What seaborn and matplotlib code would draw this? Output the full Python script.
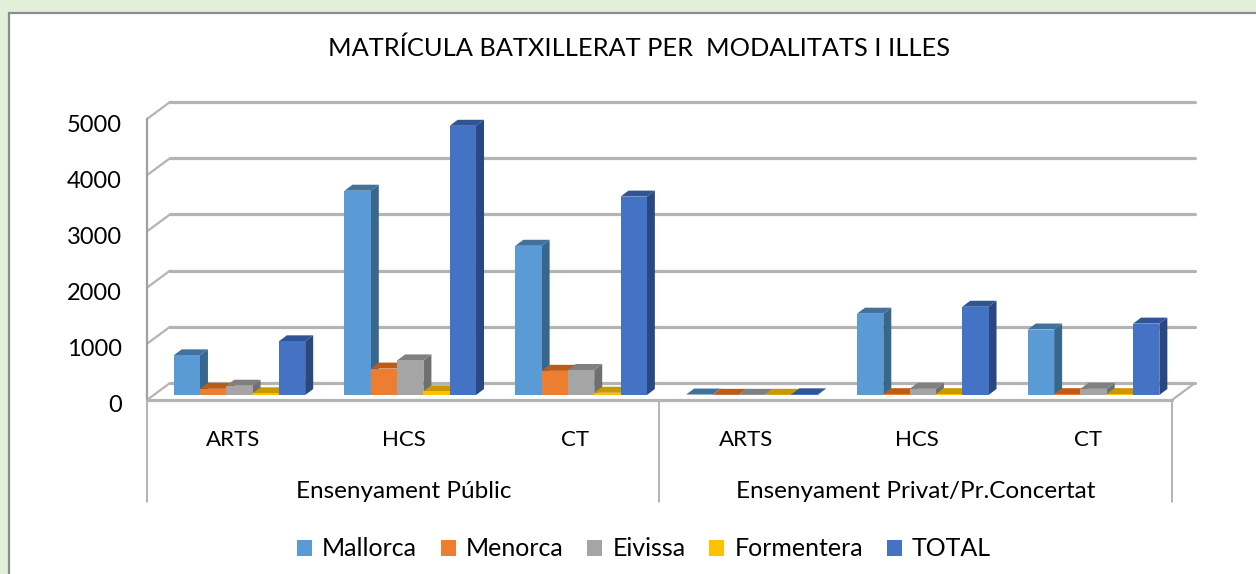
import seaborn as sns
import matplotlib.pyplot as plt
import pandas as pd
from matplotlib.patches import Patch, Polygon, Rectangle
from matplotlib.transforms import ScaledTranslation

# values per island, public ARTS/HCS/CT then private ARTS/HCS/CT
modalitats = ["ARTS", "HCS", "CT", "ARTS", "HCS", "CT"]
ensenyament = ["Ensenyament Públic", "Ensenyament Privat/Pr.Concertat"]
mallorca = [705, 3635, 2655, 8, 1447, 1165]
menorca = [110, 470, 430, 3, 15, 15]
eivissa = [165, 615, 445, 3, 110, 110]
formentera = [30, 65, 40, 3, 15, 15]
total = [955, 4790, 3530, 12, 1570, 1270]

illes = ["Mallorca", "Menorca", "Eivissa", "Formentera", "TOTAL"]
colors = ["#5B9BD5", "#ED7D31", "#A5A5A5", "#FFC000", "#4472C4"]
side_colors = ["#38678E", "#B05C22", "#6F6F6F", "#A37B00", "#294780"]
top_colors = ["#41719C", "#BE5B17", "#808080", "#C99700", "#2F5597"]
grid_color = "#B4B4B4"

sns.set_theme(style="white")
plt.rcParams["font.family"] = ["Lato", "DejaVu Sans"]

W, H = 1256, 574
fig = plt.figure(figsize=(W / 100, H / 100), dpi=100, facecolor="#E2EFD9")
fig.add_artist(Rectangle((9 / W, -0.01), 1260 / W, (574 - 13) / H + 0.01, transform=fig.transFigure,
                         facecolor="white", edgecolor="#8C8C8C", linewidth=1.6, zorder=-1))

# axes = the plane the bar fronts stand on
ax = fig.add_axes([154 / W, (574 - 395) / H, 1025 / W, 281 / H])
ax.patch.set_alpha(0)

rows = []
for name, vals in zip(illes, [mallorca, menorca, eivissa, formentera, total]):
    for i, v in enumerate(vals):
        rows.append({"pos": i, "illa": name, "alumnes": v})
df = pd.DataFrame(rows)

sns.barplot(data=df, x="pos", y="alumnes", hue="illa", hue_order=illes, palette=colors,
            width=0.77, gap=0, saturation=1, legend=False, ax=ax)
ax.set_xlim(-0.5, 5.5)
ax.set_ylim(0, 5000)
ax.set_xlabel("")
ax.set_ylabel("")
sns.despine(ax=ax, left=True, bottom=True)

# pixel sizes turned into data units
px_x = 6 / 1025
px_y = 5000 / 281
bar_dx, bar_dy = 8 * px_x, 6 * px_y
front_dx, front_dy = -7 * px_x, -5 * px_y
back_dx, back_dy = 16 * px_x, 12 * px_y

# 3d faces of each bar, left to right so neighbours overlap properly
for s, cont in enumerate(ax.containers):
    for c, bar in enumerate(cont):
        x0, x1 = bar.get_x(), bar.get_x() + bar.get_width()
        h = bar.get_height()
        z = 3 + c * 5 + s
        bar.set_zorder(z + 0.2)
        bar.set_linewidth(0)
        ax.add_patch(Polygon([(x1, 0), (x1 + bar_dx, bar_dy), (x1 + bar_dx, h + bar_dy), (x1, h)],
                             facecolor=side_colors[s], edgecolor="none", zorder=z, clip_on=False))
        ax.add_patch(Polygon([(x0, h), (x0 + bar_dx, h + bar_dy), (x1 + bar_dx, h + bar_dy), (x1, h)],
                             facecolor=top_colors[s], edgecolor="none", zorder=z + 0.1, clip_on=False))

# walls
x_l, x_r = -0.5 + front_dx, 5.5 + front_dx
for v in range(0, 5001, 1000):
    ax.plot([x_l - front_dx + back_dx, x_r - front_dx + back_dx], [v + back_dy] * 2,
            color=grid_color, lw=2.3, zorder=1, clip_on=False)
    ax.plot([x_l, x_l - front_dx + back_dx], [v + front_dy, v + back_dy],
            color=grid_color, lw=1.6, zorder=1, clip_on=False)
ax.plot([x_l, x_l], [front_dy, 5000 + front_dy], color="#A0A0A0", lw=1.6, zorder=1, clip_on=False)
ax.plot([x_l, x_r], [front_dy, front_dy], color=grid_color, lw=2.3, zorder=2, clip_on=False)
ax.plot([x_r, x_r - front_dx + back_dx], [front_dy, back_dy], color=grid_color, lw=1.6, zorder=1, clip_on=False)
for xv in [x_l, (x_l + x_r) / 2, x_r]:
    ax.plot([xv, xv], [front_dy, -107 * px_y], color="#A0A0A0", lw=1.1, zorder=1, clip_on=False)

# ticks
ax.set_yticks(range(0, 5001, 1000))
ax.set_xticks(range(6), modalitats)
ax.tick_params(axis="y", length=0, pad=23, labelsize=17, labelcolor="black")
ax.tick_params(axis="x", length=0, pad=25.5, labelsize=16, labelcolor="black")
shift_y = ScaledTranslation(0, -0.09, fig.dpi_scale_trans)
shift_x = ScaledTranslation(-0.06, 0, fig.dpi_scale_trans)
for lab in ax.get_yticklabels():
    lab.set_transform(lab.get_transform() + shift_y)
for lab in ax.get_xticklabels():
    lab.set_transform(lab.get_transform() + shift_x)

for xv, name in zip([1 + front_dx, 4 + front_dx], ensenyament):
    ax.text(xv, -97 * px_y, name, ha="center", va="center", fontsize=17.5, color="black", clip_on=False)

fig.text(639 / W, 1 - 48 / H, "MATRÍCULA BATXILLERAT PER  MODALITATS I ILLES",
         ha="center", va="center", fontsize=18.3, color="black")

handles = [Patch(facecolor=col, edgecolor="none", label=name) for col, name in zip(colors, illes)]
fig.legend(handles=handles, ncol=5, frameon=False, loc="center", bbox_to_anchor=(644 / W, 1 - 549 / H),
           fontsize=18, handlelength=0.6, handleheight=0.6, handletextpad=0.4, columnspacing=0.95,
           labelcolor="black")

fig.savefig("out.png", dpi=100, facecolor=fig.get_facecolor())
